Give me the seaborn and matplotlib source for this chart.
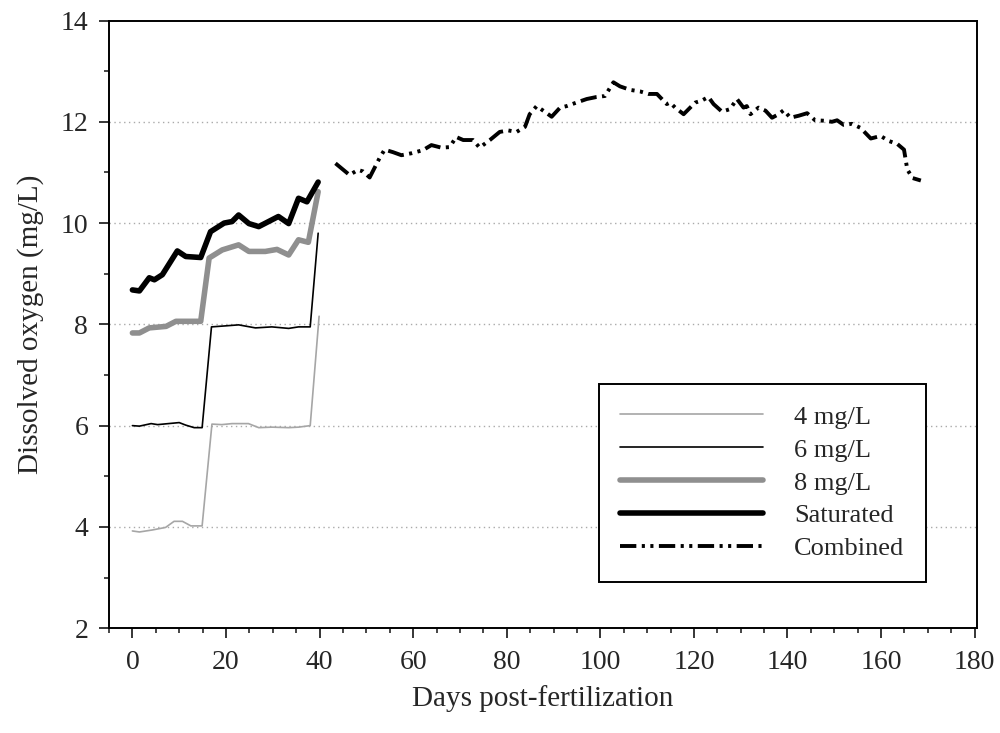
import matplotlib
matplotlib.use('Agg')
import matplotlib.pyplot as plt
import seaborn as sns
import numpy as np

# dissolved oxygen per treatment
days_4 = [0, 1.5, 4.3, 7.1, 8.9, 10.7, 12.5, 14.9, 17, 19.1, 21.3, 24.8, 27, 29.8, 33.4, 35.5, 38, 39.9]
do_4 = [3.92, 3.9, 3.94, 3.99, 4.11, 4.11, 4.02, 4.02, 6.03, 6.02, 6.04, 6.04, 5.96, 5.97, 5.96, 5.97, 6.0, 8.16]

days_6 = [0, 1.5, 4, 5.4, 10, 11.4, 13.2, 14.9, 16.9, 19.9, 22.7, 26.3, 29.8, 33.4, 35.5, 38, 39.7]
do_6 = [6.0, 5.99, 6.04, 6.02, 6.06, 6.01, 5.96, 5.96, 7.95, 7.97, 7.99, 7.93, 7.95, 7.92, 7.95, 7.95, 9.8]

days_8 = [0, 1.5, 3.6, 7.2, 9.3, 14.6, 16.4, 19.2, 22.7, 24.9, 28.4, 30.9, 33.4, 35.5, 37.6, 39.7]
do_8 = [7.83, 7.83, 7.93, 7.96, 8.06, 8.06, 9.31, 9.47, 9.57, 9.44, 9.44, 9.48, 9.37, 9.67, 9.62, 10.62]

days_sat = [0, 1.5, 3.6, 4.7, 6.4, 9.6, 11.4, 14.6, 16.7, 19.6, 21.3, 22.7, 24.9, 27, 29.1, 31.2,
            33.4, 35.5, 37.3, 39.7]
do_sat = [8.68, 8.66, 8.92, 8.88, 8.98, 9.45, 9.34, 9.32, 9.83, 10.0, 10.03, 10.16, 9.99, 9.93, 10.03,
          10.13, 9.99, 10.49, 10.42, 10.81]

days_comb = [43.4, 46.4, 48.2, 49.3, 50.7, 52.8, 53.9, 55.7, 57.5, 59.7, 62.1, 63.9, 66.0, 67.8, 69.2,
             70.7, 72.8, 74.2, 76.4, 78.5, 80.3, 82.1, 83.9, 84.9, 86.4, 88.1, 89.6, 91.4, 92.8, 94.9,
             97.1, 99.2, 101.0, 102.8, 104.2, 106.4, 108.5, 110.3, 112.1, 114.2, 114.9, 116.0, 117.8,
             119.2, 120.3, 121.7, 123.1, 124.2, 126.0, 127.7, 129.2, 130.6, 131.3, 132.1, 133.8, 135.3,
             136.7, 138.1, 139.2, 140.6, 142.4, 144.2, 145.9, 148.1, 149.5, 150.6, 152.0, 153.8, 155.6,
             157.8, 159.9, 161.7, 163.5, 164.9, 165.6, 166.7, 168.5]
do_comb = [11.18, 10.95, 11.05, 11.02, 10.9, 11.28, 11.45, 11.4, 11.34, 11.38, 11.44, 11.54, 11.49, 11.5,
           11.7, 11.64, 11.64, 11.49, 11.64, 11.8, 11.83, 11.8, 11.9, 12.15, 12.31, 12.2, 12.1, 12.28,
           12.31, 12.38, 12.45, 12.49, 12.51, 12.78, 12.7, 12.63, 12.6, 12.55, 12.55, 12.35, 12.38, 12.28,
           12.15, 12.28, 12.38, 12.42, 12.49, 12.35, 12.2, 12.25, 12.45, 12.28, 12.31, 12.15, 12.28, 12.22,
           12.08, 12.15, 12.23, 12.08, 12.12, 12.17, 12.03, 12.02, 12.0, 12.03, 11.94, 11.96, 11.88, 11.67,
           11.72, 11.62, 11.56, 11.45, 11.06, 10.89, 10.84]

sns.set_style('ticks')
plt.rcParams['font.family'] = ['Liberation Serif', 'DejaVu Serif']

fig = plt.figure(figsize=(10, 7.33), dpi=100)
ax = fig.add_axes([0.109, 0.143, 0.868, 0.829])

for y in [4, 6, 8, 10, 12]:
    ax.axhline(y, color='#aaaaaa', linestyle=(0, (1, 2.5)), linewidth=1.0, zorder=0)

sns.lineplot(x=days_4, y=do_4, ax=ax, color='#a6a6a6', linewidth=1.2, label='4 mg/L',
             estimator=None, sort=False)
sns.lineplot(x=days_6, y=do_6, ax=ax, color='black', linewidth=1.2, label='6 mg/L',
             estimator=None, sort=False)
sns.lineplot(x=days_8, y=do_8, ax=ax, color='#8f8f8f', linewidth=4.0, label='8 mg/L',
             estimator=None, sort=False, solid_capstyle='round')
sns.lineplot(x=days_sat, y=do_sat, ax=ax, color='black', linewidth=4.0, label='Saturated',
             estimator=None, sort=False, solid_capstyle='round')
sns.lineplot(x=days_comb, y=do_comb, ax=ax, color='black', linewidth=2.8, label='Combined',
             estimator=None, sort=False,
             linestyle=(0, (4.2, 1.4, 0.8, 1.4, 0.8, 1.4)))

ax.set_xlim(-5, 180.5)
ax.set_ylim(2, 14)
ax.set_xticks(np.arange(0, 181, 20))
ax.set_xticks(np.arange(-5, 181, 5), minor=True)
ax.set_yticks(np.arange(2, 15, 2))
ax.set_yticks(np.arange(3, 14, 2), minor=True)
ax.tick_params(which='major', length=7, width=1.3, labelsize=20, direction='out')
ax.tick_params(which='minor', length=3.5, width=1.2, direction='out')
ax.tick_params(axis='x', pad=9)
ax.tick_params(axis='y', pad=8)
for sp in ax.spines.values():
    sp.set_linewidth(1.4)
    sp.set_color('black')

ax.set_xlabel('Days post-fertilization', fontsize=21, labelpad=7)
ax.set_ylabel('Dissolved oxygen (mg/L)', fontsize=21, labelpad=12)

leg = ax.legend(loc='upper left', bbox_to_anchor=(0.599, 1 - 384 / 733),
                bbox_transform=fig.transFigure, borderaxespad=0, fontsize=19,
                frameon=True, fancybox=False, edgecolor='black', handlelength=5.4,
                handletextpad=1.2, labelspacing=0.36, borderpad=0.8)
leg.get_frame().set_linewidth(1.4)
leg.get_frame().set_alpha(1)

fig.savefig('out.png', dpi=100)
